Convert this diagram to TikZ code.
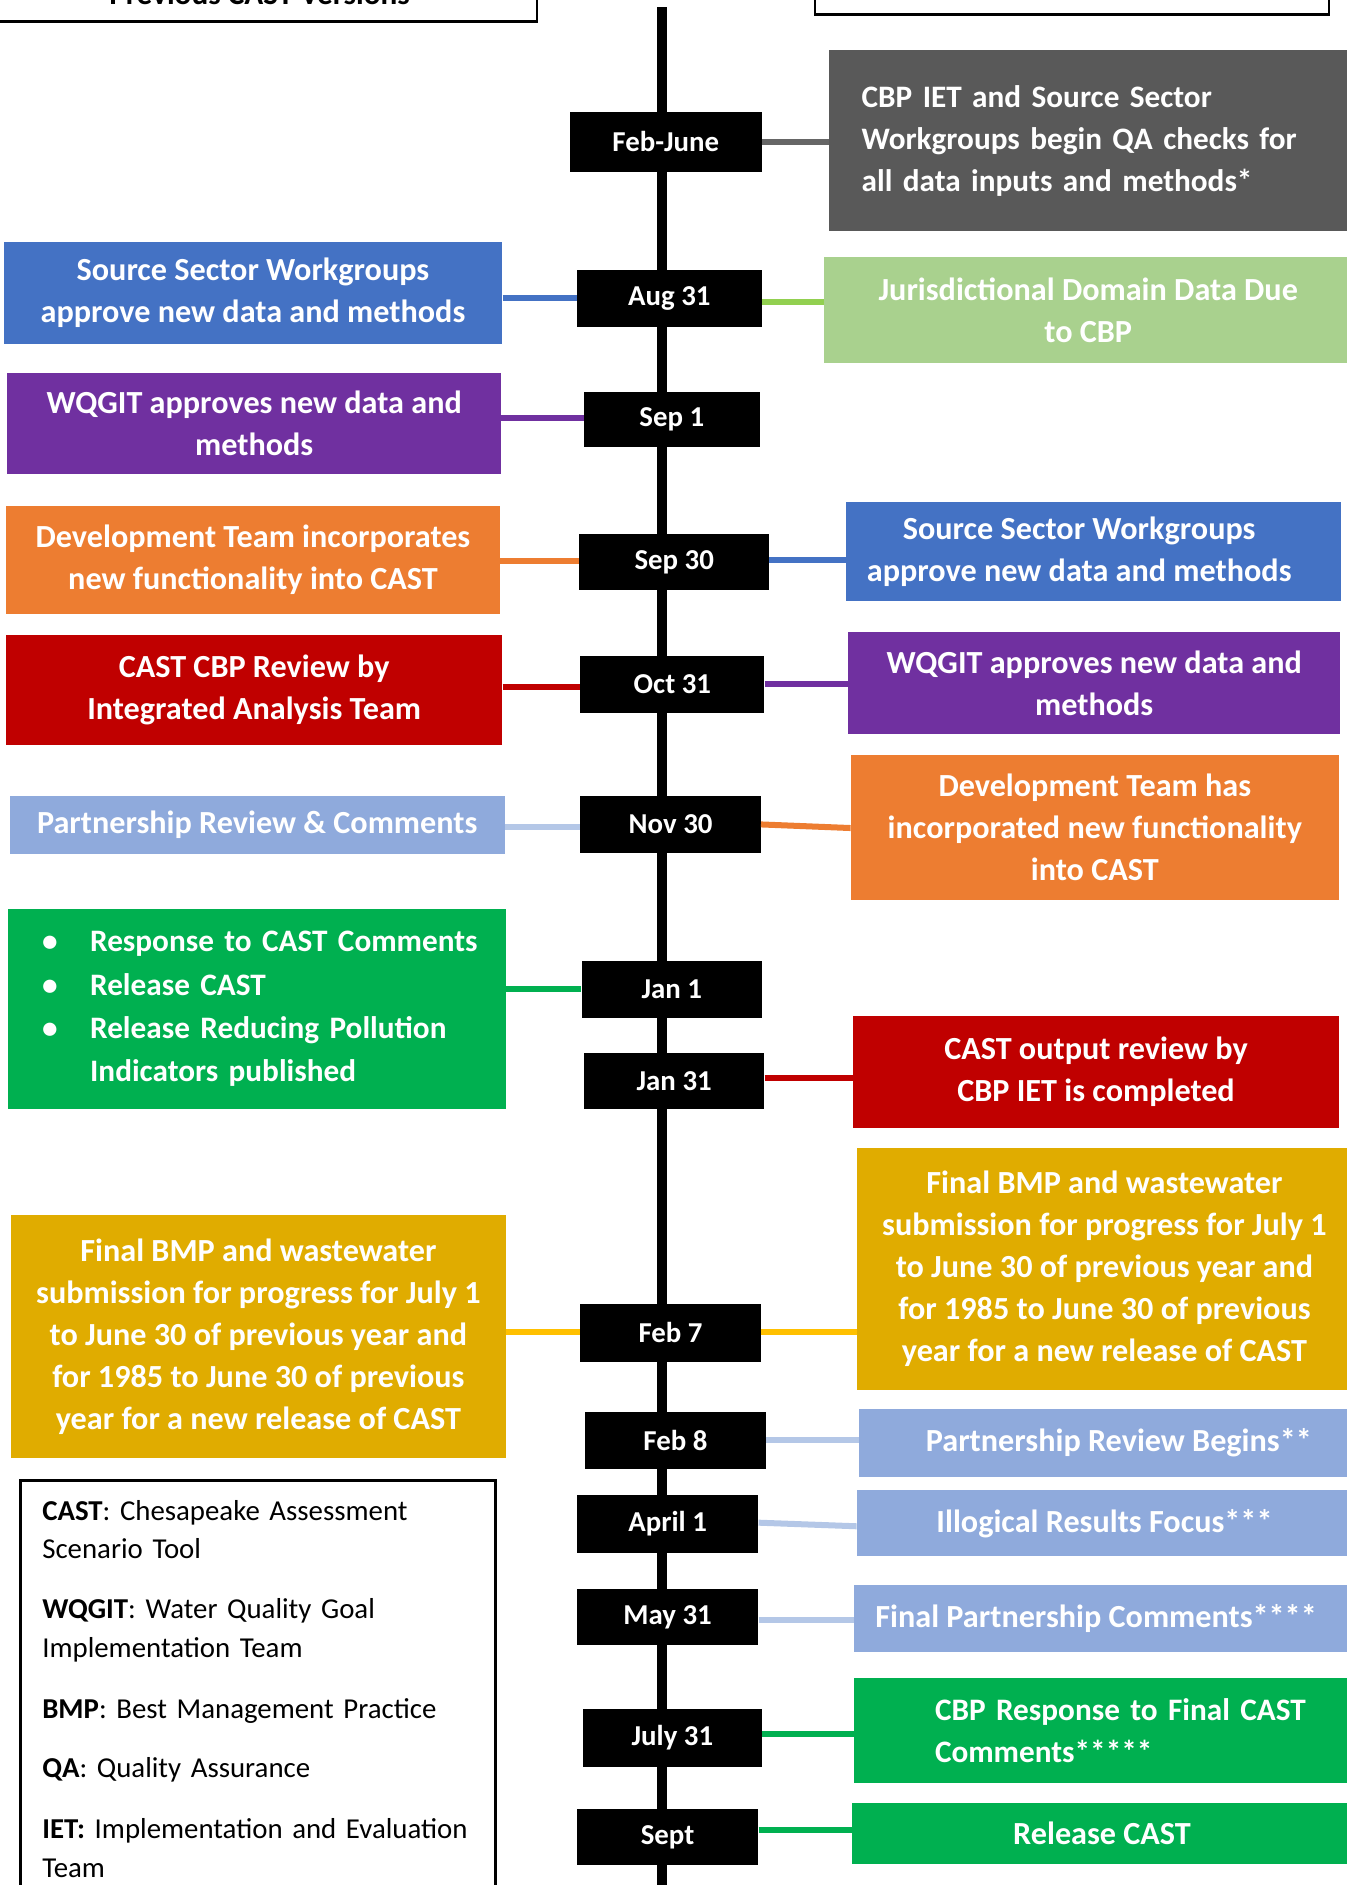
\documentclass[tikz,border=0pt]{standalone}
\usepackage{fontspec}
\setmainfont{Carlito}
\definecolor{cgray}{HTML}{595959}
\definecolor{cltgreen}{HTML}{A9D18E}
\definecolor{cblue}{HTML}{4472C4}
\definecolor{cpurple}{HTML}{7030A0}
\definecolor{corange}{HTML}{ED7D31}
\definecolor{cred}{HTML}{C00000}
\definecolor{cgold}{HTML}{E0AC00}
\definecolor{cltblue}{HTML}{8FAADC}
\definecolor{cgreen}{HTML}{00B050}
\definecolor{lgreen}{HTML}{92D050}
\definecolor{lblue}{HTML}{B4C7E7}
\definecolor{lyellow}{HTML}{FFC000}
\definecolor{lgray}{HTML}{666666}
\newcommand\bx[7]{\node[#6, minimum width={(#4-#2)*1pt}, minimum height={(#5-#3)*1pt}] (#1) at ({(#2+#4)/2},{(#3+#5)/2}) {#7};}
\begin{document}
\begin{tikzpicture}[x=1pt,y=-1pt,
  cbox/.style={inner sep=0pt, align=center, text=white, font=\fontsize{26.8}{35}\selectfont\bfseries},
  lbox/.style={cbox, align=left, font=\fontsize{26}{35}\selectfont\bfseries},
  dbox/.style={fill=black, inner sep=0pt, text=white, font=\fontsize{24}{29}\selectfont\bfseries},
  conn/.style={line width=5pt},
  frame/.style={draw=black, line width=2pt, inner sep=0pt},
]
\useasboundingbox (0,0) rectangle (1120,1568.5);
% timeline
\coordinate (ttop) at (551,6);
\coordinate (tbot) at (551,1600);
\draw[line width=8.5pt] (ttop) -- (tbot);
% top frames
\bx{prevbox}{-3}{-80}{447}{18}{frame}{}
\node[font=\fontsize{26}{35}\selectfont\bfseries, anchor=base] (prevtxt) at (216,4) {Previous CAST Versions};
\bx{nextbox}{678}{-80}{1106}{12}{frame}{}
% date boxes
\bx{febjune}{474}{93}{634}{143}{dbox}{Feb-June}
\bx{aug}{480}{225}{634}{272}{dbox}{Aug 31}
\bx{sep1}{486}{326}{632}{372}{dbox}{Sep 1}
\bx{sep30}{482}{444}{640}{491}{dbox}{Sep 30}
\bx{oct}{483}{546}{636}{593}{dbox}{Oct 31}
\bx{nov}{483}{662}{633}{710}{dbox}{Nov 30}
\bx{jan1}{484}{800}{634}{847}{dbox}{Jan 1}
\bx{jan31}{486}{876}{636}{923}{dbox}{Jan 31}
\bx{feb7}{483}{1085}{633}{1133}{dbox}{Feb 7}
\bx{feb8}{487}{1175}{637}{1222}{dbox}{Feb 8}
\bx{apr}{480}{1244}{631}{1292}{dbox}{April 1}
\bx{may}{480}{1322}{631}{1369}{dbox}{May 31}
\bx{jul}{485}{1422}{634}{1470}{dbox}{July 31}
\bx{sept}{480}{1505}{631}{1552}{dbox}{Sept}
% right boxes
\bx{qa}{690}{42}{1125}{192}{lbox, fill=cgray, text width=435pt}{\hspace*{27pt}CBP IET and Source Sector\\\hspace*{27pt}Workgroups begin QA checks for\\\hspace*{27pt}all data inputs and methods*}
\bx{jur}{686}{214}{1125}{302}{cbox, fill=cltgreen}{Jurisdictional Domain Data Due\\to CBP}
\bx{sswR}{704}{418}{1116}{500}{cbox, fill=cblue}{\hspace*{-24pt}Source Sector Workgroups\\\hspace*{-24pt}approve new data and methods}
\bx{wqR}{706}{526}{1115}{611}{cbox, fill=cpurple}{WQGIT approves new data and\\methods}
\bx{devR}{708}{628}{1114}{749}{cbox, fill=corange}{Development Team has\\incorporated new functionality\\into CAST}
\bx{outR}{710}{845}{1114}{939}{cbox, fill=cred}{CAST output review by\\CBP IET is completed}
\bx{goldR}{713}{955}{1125}{1157}{cbox, fill=cgold}{Final BMP and wastewater\\submission for progress for July 1\\to June 30 of previous year and\\for 1985 to June 30 of previous\\year for a new release of CAST}
\bx{prbR}{715}{1172}{1125}{1229}{cbox, fill=cltblue}{\hspace*{22pt}Partnership Review Begins**}
\bx{illR}{713}{1240}{1125}{1295}{cbox, fill=cltblue}{Illogical Results Focus***}
\bx{finR}{711}{1319}{1125}{1375}{cbox, fill=cltblue}{\hspace*{-12pt}Final Partnership Comments****}
\bx{respR}{711}{1396}{1125}{1484}{lbox, fill=cgreen, text width=414pt}{\hspace*{67pt}CBP Response to Final CAST\\\hspace*{67pt}Comments*****}
\bx{relR}{709}{1500}{1125}{1551}{cbox, fill=cgreen}{Release CAST}
% left boxes
\bx{sswL}{3}{201}{418}{286}{cbox, fill=cblue}{Source Sector Workgroups\\approve new data and methods}
\bx{wqL}{6}{310}{417}{394}{cbox, fill=cpurple}{WQGIT approves new data and\\methods}
\bx{devL}{5}{421}{416}{511}{cbox, fill=corange}{Development Team incorporates\\new functionality into CAST}
\bx{castL}{5}{528}{418}{620}{cbox, fill=cred}{CAST CBP Review by\\Integrated Analysis Team}
\bx{prL}{8}{662}{420}{711}{cbox, fill=cltblue}{Partnership Review \& Comments}
\bx{relL}{7}{756}{421}{923}{lbox, fill=cgreen, text width=414pt, font=\fontsize{26}{36}\selectfont\bfseries}{\hspace*{28pt}\makebox[40pt][l]{\textbullet}Response to CAST Comments\\\hspace*{28pt}\makebox[40pt][l]{\textbullet}Release CAST\\\hspace*{28pt}\makebox[40pt][l]{\textbullet}Release Reducing Pollution\\\hspace*{68pt}Indicators published}
\bx{goldL}{9}{1011}{421}{1213}{cbox, fill=cgold}{Final BMP and wastewater\\submission for progress for July 1\\to June 30 of previous year and\\for 1985 to June 30 of previous\\year for a new release of CAST}
% legend
\node[anchor=north west, inner xsep=0pt, inner ysep=16pt, text width=395pt, align=left, font=\fontsize{24}{32}\selectfont] (legend) at (17,1232) {\hspace*{18pt}\textbf{CAST}: Chesapeake Assessment\\\hspace*{18pt}Scenario Tool\\[18pt]\hspace*{18pt}\textbf{WQGIT}: Water Quality Goal\\\hspace*{18pt}Implementation Team\\[19pt]\hspace*{18pt}\textbf{BMP}: Best Management Practice\\[17pt]\hspace*{18pt}\textbf{QA}: Quality Assurance\\[19pt]\hspace*{18pt}\textbf{IET:} Implementation and Evaluation\\\hspace*{18pt}Team};
\draw[line width=2pt] (legend.north west |- 0,1650) -- (legend.north west) -- (legend.north east) -- (legend.north east |- 0,1650);
% connectors left
\draw[conn, cblue] (sswL.east |- 0,248) -- (aug.west |- 0,248);
\draw[conn, cpurple] (wqL.east |- 0,348) -- (sep1.west |- 0,348);
\draw[conn, corange] (devL.east |- 0,467) -- (sep30.west |- 0,467);
\draw[conn, cred] (castL.east |- 0,572) -- (oct.west |- 0,572);
\draw[conn, lblue] (prL.east |- 0,688) -- (nov.west |- 0,688);
\draw[conn, cgreen] (relL.east |- 0,823) -- (jan1.west |- 0,823);
\draw[conn, lyellow] (goldL.east |- 0,1108) -- (feb7.west |- 0,1108);
% connectors right
\draw[conn, lgray] (febjune.east |- 0,118) -- (qa.west |- 0,118);
\draw[conn, lgreen] (aug.east |- 0,251) -- (jur.west |- 0,251);
\draw[conn, cblue] (sep30.east |- 0,466) -- (sswR.west |- 0,466);
\draw[conn, cpurple] (oct.east |- 0,569) -- (wqR.west |- 0,569);
\draw[conn, corange] (nov.east |- 0,686) -- (devR.west |- 0,689);
\draw[conn, cred] (jan31.east |- 0,897) -- (outR.west |- 0,897);
\draw[conn, lyellow] (feb7.east |- 0,1108) -- (goldR.west |- 0,1108);
\draw[conn, lblue] (feb8.east |- 0,1198) -- (prbR.west |- 0,1198);
\draw[conn, lblue] (apr.east |- 0,1267) -- (illR.west |- 0,1270);
\draw[conn, lblue] (may.east |- 0,1348) -- (finR.west |- 0,1348);
\draw[conn, cgreen] (jul.east |- 0,1443) -- (respR.west |- 0,1443);
\draw[conn, cgreen] (sept.east |- 0,1523) -- (relR.west |- 0,1523);
\end{tikzpicture}
\end{document}
